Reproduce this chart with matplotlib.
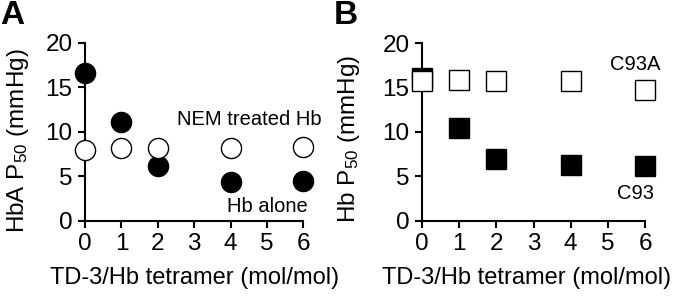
import matplotlib
matplotlib.use("Agg")
import matplotlib.pyplot as plt

plt.rcParams['font.family'] = ['Liberation Sans', 'DejaVu Sans']
plt.rcParams['mathtext.fontset'] = 'custom'
plt.rcParams['mathtext.rm'] = 'Liberation Sans'
plt.rcParams['mathtext.it'] = 'Liberation Sans:italic'
plt.rcParams['mathtext.bf'] = 'Liberation Sans:bold'

x_ratio = [0, 1, 2, 4, 6]
hb_alone = [16.6, 11.1, 6.2, 4.3, 4.5]
nem_treated = [7.9, 8.2, 8.2, 8.2, 8.3]
c93 = [16.1, 10.5, 7.0, 6.3, 6.2]
c93a = [15.8, 15.9, 15.8, 15.7, 14.7]
xticks = [0, 1, 2, 3, 4, 5, 6]
yticks = [0, 5, 10, 15, 20]

fig = plt.figure(figsize=(6.74, 2.96), dpi=100)
axA = fig.add_axes([85/674, 1-220.7/296, (303.3-85)/674, (220.7-42.7)/296])
axB = fig.add_axes([422/674, 1-220.7/296, (645-422)/674, (220.7-43.3)/296])

tick_fs = 17.5
label_fs = 17.5
xlabel_fs = 17
ann_fs = 14.5
for ax in (axA, axB):
    ax.set_xlim(0, 6)
    ax.set_ylim(0, 20)
    ax.set_xticks(xticks)
    ax.set_yticks(yticks)
    for s in ('top', 'right'):
        ax.spines[s].set_visible(False)
    for s in ('left', 'bottom'):
        ax.spines[s].set_linewidth(1.5)
    ax.tick_params(direction='out', length=5, width=1.5, labelsize=tick_fs, pad=4)
    ax.set_xlabel('TD-3/Hb tetramer (mol/mol)', fontsize=xlabel_fs)

ms = 14.5
axA.plot(x_ratio, hb_alone, 'o', ms=ms, mfc='black', mec='black', mew=1, clip_on=False, zorder=3)
axA.plot(x_ratio, nem_treated, 'o', ms=ms, mfc='white', mec='black', mew=1, clip_on=False, zorder=4)
axA.set_ylabel('HbA P$_{\\mathrm{50}}$ (mmHg)', fontsize=label_fs)
axA.yaxis.set_label_coords(-0.247, 0.45)
axA.xaxis.set_label_coords(0.5, -0.262)
axA.text(4.52, 10.75, 'NEM treated Hb', fontsize=ann_fs, ha='center', va='baseline')
axA.text(5.01, 0.94, 'Hb alone', fontsize=ann_fs, ha='center', va='baseline')

axB.plot(x_ratio, c93, 's', ms=ms, mfc='black', mec='black', mew=1, clip_on=False, zorder=3)
axB.plot(x_ratio, c93a, 's', ms=ms, mfc='white', mec='black', mew=1, clip_on=False, zorder=4)
axB.set_ylabel('Hb P$_{\\mathrm{50}}$ (mmHg)', fontsize=label_fs)
axB.yaxis.set_label_coords(-0.269, 0.46)
axB.xaxis.set_label_coords(0.47, -0.262)
axB.text(5.73, 17.0, 'C93A', fontsize=ann_fs, ha='center', va='baseline')
axB.text(5.74, 2.4, 'C93', fontsize=ann_fs, ha='center', va='baseline')

fig.text(0/674, 1.0, 'A', fontsize=24, fontweight='bold', ha='left', va='top')
fig.text(334/674, 1.0, 'B', fontsize=24, fontweight='bold', ha='left', va='top')

fig.savefig('out.png', dpi=100)
